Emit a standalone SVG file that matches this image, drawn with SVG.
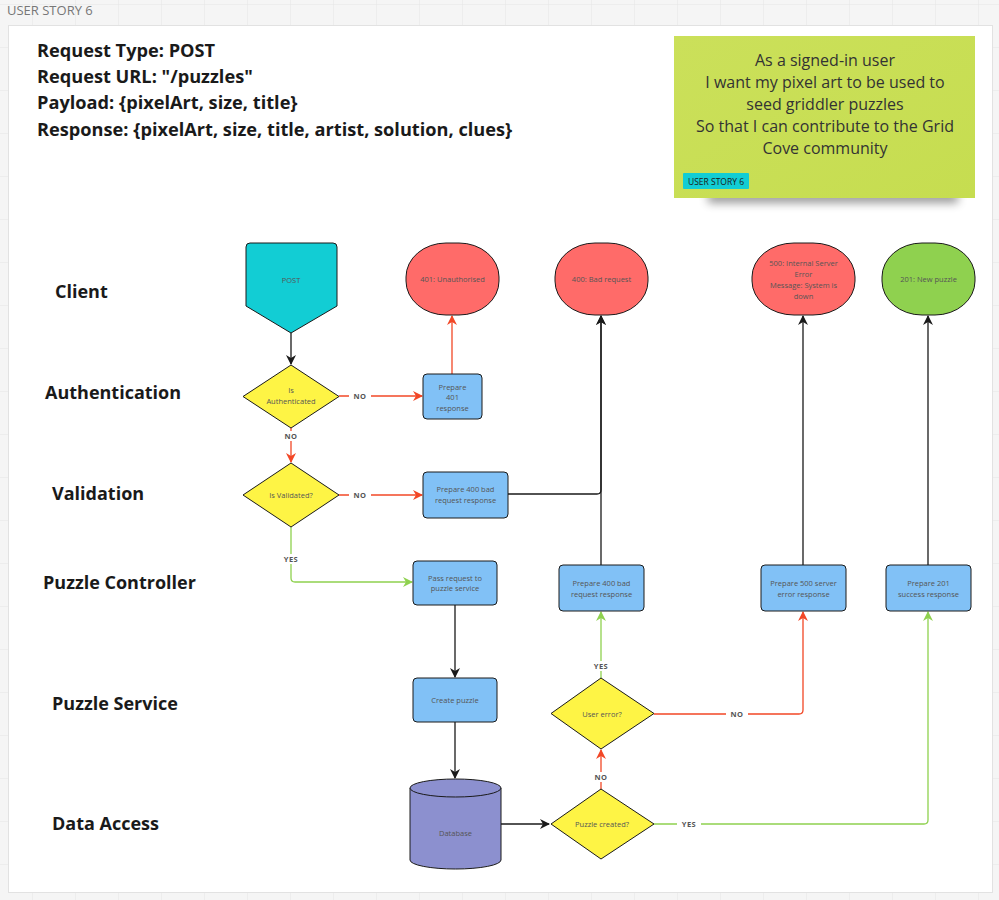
<svg xmlns="http://www.w3.org/2000/svg" width="999" height="900" viewBox="0 0 999 900">
  <defs>
    <pattern id="grid" width="43" height="43" patternUnits="userSpaceOnUse" x="-10" y="5">
      <rect width="43" height="43" fill="#f5f5f5"/>
      <path d="M43 0V43M0 43H43" fill="none" stroke="#e6e6e6" stroke-width="1"/>
    </pattern>
    <filter id="soft" x="-20%" y="-150%" width="140%" height="400%">
      <feGaussianBlur stdDeviation="5"/>
    </filter>
    <linearGradient id="note" x1="0" y1="0" x2="1" y2="1">
      <stop offset="0" stop-color="#cbe05a"/>
      <stop offset="1" stop-color="#c6dd50"/>
    </linearGradient>
    <marker id="ah-black" viewBox="0 0 10 10" refX="9" refY="5" markerWidth="10" markerHeight="10" markerUnits="userSpaceOnUse" orient="auto">
      <path d="M0 0L10 5L0 10L3 5Z" fill="#1a1a1a"/>
    </marker>
    <marker id="ah-red" viewBox="0 0 10 10" refX="9" refY="5" markerWidth="10" markerHeight="10" markerUnits="userSpaceOnUse" orient="auto">
      <path d="M0 0L10 5L0 10L3 5Z" fill="#f24726"/>
    </marker>
    <marker id="ah-green" viewBox="0 0 10 10" refX="9" refY="5" markerWidth="10" markerHeight="10" markerUnits="userSpaceOnUse" orient="auto">
      <path d="M0 0L10 5L0 10L3 5Z" fill="#8fd14f"/>
    </marker>
  </defs>
  <style>
    text { font-family: "Open Sans", "Noto Sans", "Liberation Sans", sans-serif; }
    .spec { font-size: 18.2px; font-weight: 700; fill: #1a1a1a; }
    .lane { font-size: 18px; font-weight: 700; fill: #1a1a1a; }
    .small { font-size: 7.5px; fill: #555; text-anchor: middle; }
    .lbl { font-size: 7.5px; font-weight: 700; fill: #555; text-anchor: middle; letter-spacing: 0.5px; }
    .lblbg { fill: #ffffff; }
    .box { fill: #81c1f6; stroke: #1a1a1a; stroke-width: 1; }
    .dia { fill: #fef445; stroke: #1a1a1a; stroke-width: 1; stroke-linejoin: round; }
    .bad { fill: #ff6b69; stroke: #1a1a1a; stroke-width: 1; }
    .good { fill: #8fd14f; stroke: #1a1a1a; stroke-width: 1; }
    .k { fill: none; stroke: #1a1a1a; stroke-width: 1.3; }
    .r { fill: none; stroke: #f24726; stroke-width: 1.3; }
    .g { fill: none; stroke: #8fd14f; stroke-width: 1.3; }
  </style>

  <!-- board background and frame -->
  <rect width="999" height="900" fill="url(#grid)"/>
  <text x="7" y="15" font-size="13" fill="#777">USER STORY 6</text>
  <rect x="8.5" y="25.5" width="984" height="867" fill="#ffffff" stroke="#e2e2e2"/>

  <!-- endpoint spec -->
  <g id="spec">
    <text class="spec" x="37" y="57">Request Type: POST</text>
    <text class="spec" x="37" y="83">Request URL: "/puzzles"</text>
    <text class="spec" x="37" y="109">Payload: {pixelArt, size, title}</text>
    <text class="spec" x="37" y="136">Response: {pixelArt, size, title, artist, solution, clues}</text>
  </g>

  <!-- sticky note -->
  <g id="sticky">
    <rect x="708" y="191" width="250" height="12" fill="#000" opacity="0.4" filter="url(#soft)"/>
    <rect x="674" y="36" width="301" height="162" fill="url(#note)"/>
    <g font-size="16" fill="#333" text-anchor="middle">
      <text x="825" y="66">As a signed-in user</text>
      <text x="825" y="88">I want my pixel art to be used to</text>
      <text x="825" y="110">seed griddler puzzles</text>
      <text x="825" y="132">So that I can contribute to the Grid</text>
      <text x="825" y="154">Cove community</text>
    </g>
    <rect x="683" y="173" width="66" height="16" rx="1" fill="#12cdd4"/>
    <text x="716" y="184.5" font-size="8.5" fill="#1a1a1a" text-anchor="middle">USER STORY 6</text>
  </g>

  <!-- swimlane titles -->
  <g id="lanes">
    <text class="lane" x="55" y="298">Client</text>
    <text class="lane" x="45" y="399">Authentication</text>
    <text class="lane" x="52" y="500">Validation</text>
    <text class="lane" x="43" y="589">Puzzle Controller</text>
    <text class="lane" x="52" y="710">Puzzle Service</text>
    <text class="lane" x="52" y="830">Data Access</text>
  </g>

  <!-- connectors -->
  <g id="connectors">
    <path class="k" d="M291 333V364" marker-end="url(#ah-black)"/>
    <path class="r" d="M339 396H422" marker-end="url(#ah-red)"/>
    <path class="r" d="M452 374V316" marker-end="url(#ah-red)"/>
    <path class="r" d="M291 428V462" marker-end="url(#ah-red)"/>
    <path class="r" d="M339 495H422" marker-end="url(#ah-red)"/>
    <path class="k" d="M508 494H597Q601 494 601 490V316" marker-end="url(#ah-black)"/>
    <path class="k" d="M601 565V316" marker-end="url(#ah-black)"/>
    <path class="g" d="M291 527V578Q291 582 295 582H412" marker-end="url(#ah-green)"/>
    <path class="k" d="M455 605V677" marker-end="url(#ah-black)"/>
    <path class="k" d="M455 722V778" marker-end="url(#ah-black)"/>
    <path class="k" d="M501 824H549" marker-end="url(#ah-black)"/>
    <path class="r" d="M601 789V750" marker-end="url(#ah-red)"/>
    <path class="g" d="M601 678V612" marker-end="url(#ah-green)"/>
    <path class="r" d="M654 714H799Q803 714 803 710V612" marker-end="url(#ah-red)"/>
    <path class="k" d="M803 565V316" marker-end="url(#ah-black)"/>
    <path class="k" d="M928 565V316" marker-end="url(#ah-black)"/>
    <path class="g" d="M654 824H924Q928 824 928 820V612" marker-end="url(#ah-green)"/>

    <!-- connector captions -->
    <rect class="lblbg" x="349" y="391" width="22" height="10"/>
    <text class="lbl" x="360" y="399">NO</text>
    <rect class="lblbg" x="280" y="431" width="22" height="10"/>
    <text class="lbl" x="291" y="439">NO</text>
    <rect class="lblbg" x="349" y="490" width="22" height="10"/>
    <text class="lbl" x="360" y="498">NO</text>
    <rect class="lblbg" x="279" y="554" width="24" height="10"/>
    <text class="lbl" x="291" y="562">YES</text>
    <rect class="lblbg" x="589" y="661" width="24" height="10"/>
    <text class="lbl" x="601" y="669">YES</text>
    <rect class="lblbg" x="590" y="772" width="22" height="10"/>
    <text class="lbl" x="601" y="780">NO</text>
    <rect class="lblbg" x="726" y="709" width="22" height="10"/>
    <text class="lbl" x="737" y="717">NO</text>
    <rect class="lblbg" x="677" y="819" width="24" height="10"/>
    <text class="lbl" x="689" y="827">YES</text>
  </g>

  <!-- client row -->
  <g id="post">
    <path d="M250 243H333Q337 243 337 247V306L291 333L246 306V247Q246 243 250 243Z" fill="#12cdd4" stroke="#1a1a1a" stroke-width="1" stroke-linejoin="round"/>
    <text class="small" x="291" y="283">POST</text>
  </g>
  <g id="res-401">
    <rect class="bad" x="406" y="243" width="93" height="72" rx="40" ry="34"/>
    <text class="small" x="452.5" y="282">401: Unauthorised</text>
  </g>
  <g id="res-400">
    <rect class="bad" x="555" y="243" width="93" height="72" rx="40" ry="34"/>
    <text class="small" x="601.5" y="282">400: Bad request</text>
  </g>
  <g id="res-500">
    <rect class="bad" x="752" y="243" width="103" height="72" rx="42" ry="34"/>
    <text class="small" x="803.5" y="266">500: Internal Server</text>
    <text class="small" x="803.5" y="277">Error</text>
    <text class="small" x="803.5" y="288">Message: System is</text>
    <text class="small" x="803.5" y="299">down</text>
  </g>
  <g id="res-201">
    <rect class="good" x="882" y="243" width="93" height="72" rx="40" ry="34"/>
    <text class="small" x="928.5" y="282">201: New puzzle</text>
  </g>

  <!-- authentication row -->
  <g id="is-authenticated">
    <path class="dia" d="M291 365L339 396.5L291 428L243 396.5Z"/>
    <text class="small" x="291" y="393">Is</text>
    <text class="small" x="291" y="404">Authenticated</text>
  </g>
  <g id="prep-401">
    <rect class="box" x="423" y="374" width="59" height="45" rx="4"/>
    <text class="small" x="452.5" y="390">Prepare</text>
    <text class="small" x="452.5" y="400">401</text>
    <text class="small" x="452.5" y="411">response</text>
  </g>

  <!-- validation row -->
  <g id="is-validated">
    <path class="dia" d="M291 463L339 495L291 527L243 495Z"/>
    <text class="small" x="291" y="498">Is Validated?</text>
  </g>
  <g id="prep-400-validation">
    <rect class="box" x="423" y="472" width="85" height="46" rx="4"/>
    <text class="small" x="465.5" y="492">Prepare 400 bad</text>
    <text class="small" x="465.5" y="503">request response</text>
  </g>

  <!-- controller row -->
  <g id="pass-request">
    <rect class="box" x="413" y="561" width="84" height="44" rx="4"/>
    <text class="small" x="455" y="581">Pass request to</text>
    <text class="small" x="455" y="591">puzzle service</text>
  </g>
  <g id="prep-400-controller">
    <rect class="box" x="559" y="565" width="85" height="46" rx="4"/>
    <text class="small" x="601.5" y="586">Prepare 400 bad</text>
    <text class="small" x="601.5" y="597">request response</text>
  </g>
  <g id="prep-500">
    <rect class="box" x="761" y="565" width="85" height="46" rx="4"/>
    <text class="small" x="803.5" y="586">Prepare 500 server</text>
    <text class="small" x="803.5" y="597">error response</text>
  </g>
  <g id="prep-201">
    <rect class="box" x="886" y="565" width="85" height="46" rx="4"/>
    <text class="small" x="928.5" y="586">Prepare 201</text>
    <text class="small" x="928.5" y="597">success response</text>
  </g>

  <!-- service row -->
  <g id="create-puzzle">
    <rect class="box" x="413" y="678" width="84" height="44" rx="4"/>
    <text class="small" x="455" y="703">Create puzzle</text>
  </g>
  <g id="user-error">
    <path class="dia" d="M601 678L654 713.5L601 749L551 713.5Z"/>
    <text class="small" x="602" y="716.5">User error?</text>
  </g>

  <!-- data access row -->
  <g id="database">
    <path d="M410 788V860A45.5 9 0 0 0 501 860V788" fill="#8c90cf" stroke="#1a1a1a" stroke-width="1"/>
    <ellipse cx="455.5" cy="788" rx="45.5" ry="9" fill="#8c90cf" stroke="#1a1a1a" stroke-width="1"/>
    <text class="small" x="455.5" y="836">Database</text>
  </g>
  <g id="puzzle-created">
    <path class="dia" d="M601 789L654 824L601 859L551 824Z"/>
    <text class="small" x="602" y="827">Puzzle created?</text>
  </g>
</svg>
